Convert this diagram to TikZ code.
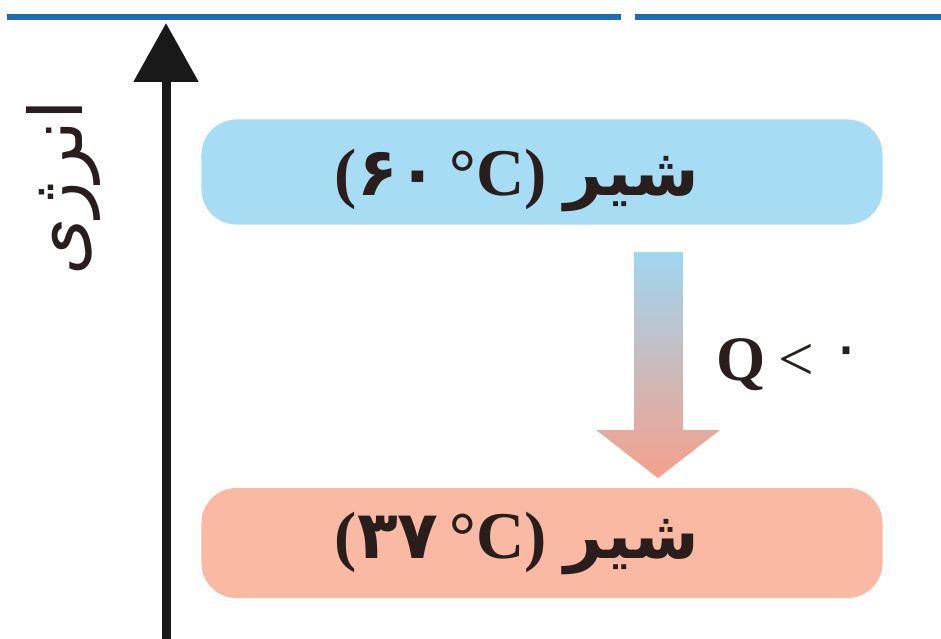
\documentclass[tikz,border=0pt]{standalone}
\usepackage{fontspec}
\setmainfont{Liberation Serif}
\newfontfamily\arabicfont[Script=Arabic]{DejaVu Sans}
\TeXXeTstate=1
\usetikzlibrary{arrows.meta}
\definecolor{hotfill}{HTML}{A6DCF4}
\definecolor{coldfill}{HTML}{F9B9A3}
\definecolor{rulecol}{HTML}{1F6DB3}
\definecolor{inkcol}{HTML}{2A1E1C}
\definecolor{flowtop}{HTML}{9FD6F1}
\definecolor{flowbot}{HTML}{F5A08A}
\newcommand\milktext[1]{({\arabicfont #1}\,°C)\hspace{3.5mm}{\arabicfont\beginR شیر\endR}}
\begin{document}
\begin{tikzpicture}[x=0.2mm,y=-0.2mm,
  rule/.style={line width=1.2mm,rulecol},
  box/.style={rounded corners=7mm,inner sep=0pt,minimum width=136.2mm},
  lbl/.style={font=\bfseries\fontsize{38}{40}\selectfont,text=inkcol,inner sep=0pt}]
\useasboundingbox (0,0) rectangle (941,639);
% top rule, split in two
\draw[rule] (7,17) -- (621,17); \draw[rule] (635,17) -- (941,17);
% energy axis
\coordinate (axB) at (166,639); \coordinate (axT) at (166,23);
\draw[line width=1.8mm,black!90,-{Triangle[width=12.6mm,length=11.8mm]}] (axB) -- (axT);
\node[rotate=90,inner sep=0pt,text=inkcol,font=\arabicfont\fontsize{42}{42}\selectfont] (eLbl) at (63,188) {\beginR انرژی\endR};
% the two states
\node[box,fill=hotfill,minimum height=21mm] (hot) at (542,172) {};
\node[lbl] (hotT) at (517,180) {\milktext{۶۰}};
\node[box,fill=coldfill,minimum height=22mm] (cold) at (542,543) {};
\node[lbl] (coldT) at (517,543) {\milktext{۳۷}};
% heat flow
\shade[top color=flowtop,bottom color=flowbot] (634,252) -- (683,252) -- (683,430) -- (720,430)
  -- (658,478) -- (596,430) -- (634,430) -- cycle;
\node[inner sep=0pt,text=inkcol,font=\fontsize{36}{36}\selectfont] (qLbl) at (790,365)
  {\textbf{Q}\hspace{2.5mm}<\hspace{3mm}\raisebox{0.2em}{\arabicfont ۰}};
\end{tikzpicture}
\end{document}
